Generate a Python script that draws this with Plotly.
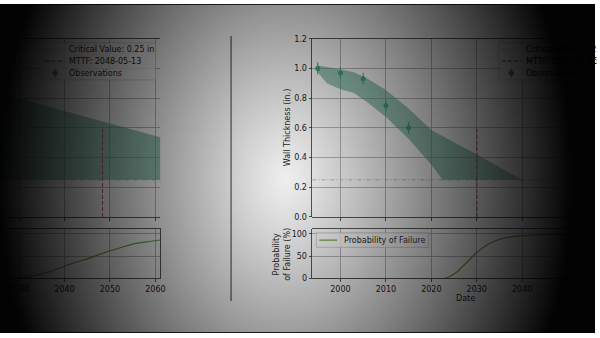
import base64
import struct
import zlib

import numpy as np
import pandas as pd
import plotly.graph_objects as go

W, H = 600, 338

# ---------------- data ----------------
obs_years = [1995, 2000, 2005, 2010, 2015]
obs_thickness = [1.00, 0.97, 0.93, 0.75, 0.60]
obs_error = [0.04, 0.04, 0.04, 0.04, 0.04]

critical_value = 0.25

# prediction band, current inspection set
band_years = [1995, 1997, 2000, 2003, 2006, 2010, 2015, 2020, 2022.5, 2030, 2040]
band_upper = [1.02, 1.01, 0.995, 0.975, 0.93, 0.855, 0.73, 0.585, 0.545, 0.42, 0.25]
band_lower = [0.975, 0.90, 0.86, 0.835, 0.77, 0.673, 0.527, 0.352, 0.25, 0.25, 0.25]
mttf_date = "2030-01-25"

pof_years = [1994, 2000, 2010, 2020, 2022.7, 2024, 2025, 2026, 2027, 2028, 2029,
             2030, 2032, 2034, 2036, 2038, 2040, 2043, 2046, 2050, 2056]
pof_values = [0, 0, 0, 0, 0, 4, 10, 18, 28, 38, 48,
              58, 73, 84, 90, 93.5, 95.5, 97.5, 98.5, 99, 99.5]

# prediction band, slower-corrosion scenario
band2_years = [2025, 2062]
band2_upper = [0.839, 0.528]
band2_lower = [0.25, 0.25]
mttf2_date = "2048-05-13"

pof2_years = [2025, 2028, 2030, 2032, 2035, 2038, 2040, 2043, 2045, 2048, 2050,
              2053, 2055, 2058, 2062]
pof2_values = [0, 0.3, 1.2, 3.5, 10, 20, 27.5, 38, 44, 55, 62, 71, 77, 82, 87]

thickness_ticks = [0.0, 0.2, 0.4, 0.6, 0.8, 1.0, 1.2]
twin_ticks = [0.0, 0.2, 0.4, 0.6, 0.8, 1.0]
pof_ticks = [0, 50, 100]

# ---------------- styling ----------------
FONT = "DejaVu Sans"
TEXT = "#262626"
SPINE = "#333333"
GRID = "#a8a8a8"
TEAL = "#4a9e80"
BAND = "rgba(74,158,128,0.55)"
CRIT = "#93d3bd"
RED = "#c4505a"
GREEN = "#70a845"


def dec_year(s):
    t = pd.Timestamp(s)
    days = 366 if t.is_leap_year else 365
    return t.year + (t.dayofyear - 1) / days


mttf = dec_year(mttf_date)
mttf2 = dec_year(mttf2_date)

# page geometry (pixels)
FULL_X = [1993.82, 2061.05]          # full time span of each figure
AX_W = 308.0                          # width of the full axes in px
PPY = AX_W / (FULL_X[1] - FULL_X[0])
LEFT_PX = (0.0, 161.5)
RIGHT_PX = (315.0, 600.0)
TOP_PX = (218.7, 35.7)                # bottom, top
BOT_PX = (282.0, 231.5)
THICK_RANGE = [0, 1.2]
POF_RANGE = [0, 110]

left_range = [FULL_X[1] - (LEFT_PX[1] - LEFT_PX[0]) / PPY, FULL_X[1]]
right_range = [FULL_X[0], FULL_X[0] + (RIGHT_PX[1] - RIGHT_PX[0]) / PPY]


def xdom(p):
    return [p[0] / W, p[1] / W]


def ydom(p):
    return [1 - p[0] / H, 1 - p[1] / H]


def mapper(p, r):
    return lambda v: r[0] + (v - p[0]) / (p[1] - p[0]) * (r[1] - r[0])


def shade(px, py):
    d = np.sqrt(((px - 288) / 290.0) ** 2 + ((py - 180) / 400.0) ** 2)
    return 0.93 * np.clip(1 - d ** 1.14, 0, 1)


def darken(hexcol, f):
    h = hexcol.lstrip("#")
    r, g, b = (int(h[i:i + 2], 16) for i in (0, 2, 4))
    return f"rgb({int(r * f)},{int(g * f)},{int(b * f)})"


def rgba_png(arr):
    """Encode an (h, w, 4) uint8 array as a PNG data URI."""
    h, w, _ = arr.shape
    raw = b"".join(b"\x00" + arr[i].tobytes() for i in range(h))

    def chunk(tag, data):
        body = tag + data
        return struct.pack(">I", len(data)) + body + struct.pack(">I", zlib.crc32(body) & 0xFFFFFFFF)

    png = (b"\x89PNG\r\n\x1a\n"
           + chunk(b"IHDR", struct.pack(">IIBBBBB", w, h, 8, 6, 0, 0, 0))
           + chunk(b"IDAT", zlib.compress(raw, 9))
           + chunk(b"IEND", b""))
    return "data:image/png;base64," + base64.b64encode(png).decode()


fig = go.Figure()

# ---- left figure, thickness panel ----
fig.add_trace(go.Scatter(x=FULL_X, y=[critical_value] * 2, mode="lines",
                         line=dict(color=CRIT, width=1, dash="4px,2px,1px,2px"),
                         xaxis="x", yaxis="y", hoverinfo="skip"))
fig.add_trace(go.Scatter(x=band2_years + band2_years[::-1],
                         y=band2_upper + band2_lower[::-1], fill="toself",
                         fillcolor=BAND, line=dict(width=0), mode="lines",
                         xaxis="x", yaxis="y", hoverinfo="skip"))
fig.add_trace(go.Scatter(x=[mttf2, mttf2], y=[0, THICK_RANGE[1] * 0.5], mode="lines",
                         line=dict(color=RED, width=1, dash="4px,2px"),
                         xaxis="x", yaxis="y"))

# ---- left figure, probability panel ----
fig.add_trace(go.Scatter(x=pof2_years, y=pof2_values, mode="lines",
                         line=dict(color=GREEN, width=1.2, shape="spline"),
                         xaxis="x2", yaxis="y3"))

# ---- right figure, thickness panel ----
fig.add_trace(go.Scatter(x=FULL_X, y=[critical_value] * 2, mode="lines",
                         line=dict(color=CRIT, width=1, dash="4px,2px,1px,2px"),
                         xaxis="x3", yaxis="y4", hoverinfo="skip"))
fig.add_trace(go.Scatter(x=band_years + band_years[::-1],
                         y=band_upper + band_lower[::-1], fill="toself",
                         fillcolor=BAND, line=dict(width=0), mode="lines",
                         xaxis="x3", yaxis="y4", hoverinfo="skip"))
fig.add_trace(go.Scatter(x=[mttf, mttf], y=[0, THICK_RANGE[1] * 0.5], mode="lines",
                         line=dict(color=RED, width=1, dash="4px,2px"),
                         xaxis="x3", yaxis="y4"))
fig.add_trace(go.Scatter(x=obs_years, y=obs_thickness, mode="markers",
                         marker=dict(color=TEAL, size=5),
                         error_y=dict(type="data", array=obs_error, color=TEAL,
                                      thickness=1, width=0),
                         xaxis="x3", yaxis="y4"))

# ---- right figure, probability panel ----
fig.add_trace(go.Scatter(x=pof_years, y=pof_values, mode="lines",
                         line=dict(color=GREEN, width=1.2, shape="spline"),
                         xaxis="x4", yaxis="y5"))

# ---- darkened edges overlay, stretched over the whole page ----
IW, IH = 150, 85
cx = (np.arange(IW) + 0.5) * W / IW
cy = (np.arange(IH) + 0.5) * H / IH
CX, CY = np.meshgrid(cx, cy)
alpha = np.clip((1 - shade(CX, CY)) * 255, 0, 252).astype(np.uint8)
overlay = np.zeros((IH, IW, 4), dtype=np.uint8)
overlay[..., 3] = alpha

tickfont = dict(family=FONT, size=8, color=TEXT)
common_x = dict(dtick=10, tick0=2000, ticks="outside", ticklen=3, tickwidth=0.8,
                tickcolor=SPINE, showgrid=True, gridcolor=GRID, gridwidth=0.8,
                showline=True, linecolor=SPINE, linewidth=0.8, mirror=True,
                zeroline=False, tickfont=tickfont, fixedrange=True)
common_y = dict(showgrid=True, gridcolor=GRID, gridwidth=0.8, zeroline=False,
                tickfont=tickfont, fixedrange=True, tickcolor=SPINE, ticklen=3,
                tickwidth=0.8, linecolor=SPINE, linewidth=0.8)

layout = dict(
    width=W, height=H, margin=dict(l=0, r=0, t=0, b=0),
    paper_bgcolor="white", plot_bgcolor="rgba(0,0,0,0)",
    showlegend=False, font=dict(family=FONT, size=8, color=TEXT),
    xaxis=dict(common_x, domain=xdom(LEFT_PX), range=left_range, anchor="y",
               showticklabels=False),
    yaxis=dict(common_y, domain=ydom(TOP_PX), range=THICK_RANGE, anchor="x",
               tickvals=thickness_ticks, showticklabels=False, ticks="",
               showline=False),
    yaxis2=dict(common_y, overlaying="y", side="right", anchor="x", range=[0, 1],
                tickvals=twin_ticks, tickformat=".1f", ticks="outside",
                showgrid=False, showline=True),
    xaxis2=dict(common_x, domain=xdom(LEFT_PX), range=left_range, anchor="y3"),
    yaxis3=dict(common_y, domain=ydom(BOT_PX), range=POF_RANGE, anchor="x2",
                side="right", tickvals=pof_ticks, showticklabels=False, ticks="",
                showline=True),
    xaxis3=dict(common_x, domain=xdom(RIGHT_PX), range=right_range, anchor="y4",
                showticklabels=False),
    yaxis4=dict(common_y, domain=ydom(TOP_PX), range=THICK_RANGE, anchor="x3",
                tickvals=thickness_ticks, tickformat=".1f", ticks="outside",
                showline=True),
    xaxis4=dict(common_x, domain=xdom(RIGHT_PX), range=right_range, anchor="y5"),
    yaxis5=dict(common_y, domain=ydom(BOT_PX), range=POF_RANGE, anchor="x4",
                tickvals=pof_ticks, ticks="outside", showline=True),
    images=[dict(source=rgba_png(overlay), xref="paper", yref="paper",
                 x=0, y=1, sizex=1, sizey=1, xanchor="left", yanchor="top",
                 sizing="stretch", layer="above")],
)

shapes = []
annotations = []

# page frame and divider between the two slides
shapes.append(dict(type="line", xref="paper", yref="paper", layer="below",
                   x0=0, x1=1, y0=1 - 0.5 / H, y1=1 - 0.5 / H,
                   line=dict(color="#333333", width=1)))
shapes.append(dict(type="line", xref="paper", yref="paper", layer="below",
                   x0=0, x1=1, y0=0.5 / H, y1=0.5 / H,
                   line=dict(color="#333333", width=1)))
shapes.append(dict(type="line", xref="paper", yref="paper", layer="below",
                   x0=233 / W, x1=233 / W, y0=1 - 33 / H, y1=1 - 305 / H,
                   line=dict(color="#3a3a3a", width=1)))


def add_legend(box, rows, xref, yref, xmap, ymap, handle, text_x):
    x0, y0, x1, y1 = box
    shapes.append(dict(type="rect", xref=xref, yref=yref, layer="between",
                       x0=xmap(x0), x1=xmap(x1), y0=ymap(y0), y1=ymap(y1),
                       fillcolor="rgba(255,255,255,0.8)",
                       line=dict(color="#cccccc", width=0.8)))
    # text boxes stop at the page edge so long labels are cut there
    text_w = min(x1 - text_x - 2, W - text_x - 1)
    for label, style, color, yc in rows:
        if style == "marker":
            xm = (handle[0] + handle[1]) / 2
            shapes.append(dict(type="line", xref=xref, yref=yref, layer="between",
                               x0=xmap(xm), x1=xmap(xm), y0=ymap(yc - 5), y1=ymap(yc + 5),
                               line=dict(color=color, width=1)))
            shapes.append(dict(type="circle", xref=xref, yref=yref, layer="between",
                               x0=xmap(xm - 2.5), x1=xmap(xm + 2.5),
                               y0=ymap(yc - 2.5), y1=ymap(yc + 2.5),
                               fillcolor=color, line=dict(color=color, width=0.5)))
        else:
            dash = {"dashdot": "4px,2px,1px,2px", "dash": "4px,2px",
                    "solid": "solid"}[style]
            shapes.append(dict(type="line", xref=xref, yref=yref, layer="between",
                               x0=xmap(handle[0]), x1=xmap(handle[1]),
                               y0=ymap(yc), y1=ymap(yc),
                               line=dict(color=color, width=1.2, dash=dash)))
        annotations.append(dict(xref="paper", yref="paper", x=text_x / W, y=1 - yc / H,
                                text=label, xanchor="left", yanchor="middle",
                                align="left", width=text_w, showarrow=False,
                                font=dict(family=FONT, size=8,
                                          color=darken(TEXT, shade(text_x + 30, yc)))))


thk_rows = lambda mt: [("Critical Value: 0.25 in", "dashdot", CRIT, 46.5),
                       (f"MTTF: {mt}", "dash", RED, 58.7),
                       ("Observations", "marker", TEAL, 71.0)]

add_legend((43, 40, 157, 78), thk_rows(mttf2_date), "x", "y",
           mapper(LEFT_PX, left_range), mapper(TOP_PX, THICK_RANGE), (46, 65), 67.5)
add_legend((503, 40, 617, 78), thk_rows(mttf_date), "x3", "y4",
           mapper(RIGHT_PX, right_range), mapper(TOP_PX, THICK_RANGE), (506, 525), 528.5)
add_legend((319, 235, 432, 250), [("Probability of Failure", "solid", GREEN, 242.5)],
           "x4", "y5", mapper(RIGHT_PX, right_range), mapper(BOT_PX, POF_RANGE),
           (322, 340), 344.5)

# axis titles
annotations.append(dict(xref="paper", yref="paper", x=290 / W, y=1 - 127 / H,
                        text="Wall Thickness (in.)", textangle=-90, showarrow=False,
                        xanchor="center", yanchor="middle",
                        font=dict(family=FONT, size=8, color=darken(TEXT, shade(290, 127)))))
annotations.append(dict(xref="paper", yref="paper", x=284 / W, y=1 - 257 / H,
                        text="Probability<br>of Failure (%)", textangle=-90,
                        showarrow=False, xanchor="center", yanchor="middle",
                        font=dict(family=FONT, size=8, color=darken(TEXT, shade(284, 257)))))
annotations.append(dict(xref="x4", yref="paper", x=(FULL_X[0] + FULL_X[1]) / 2,
                        y=1 - 303 / H, text="Date", showarrow=False,
                        xanchor="center", yanchor="middle",
                        font=dict(family=FONT, size=8, color=darken(TEXT, shade(469, 303)))))

layout["shapes"] = shapes
layout["annotations"] = annotations
fig.update_layout(layout)

fig.write_html("out.html", config=dict(displayModeBar=False, staticPlot=True))
